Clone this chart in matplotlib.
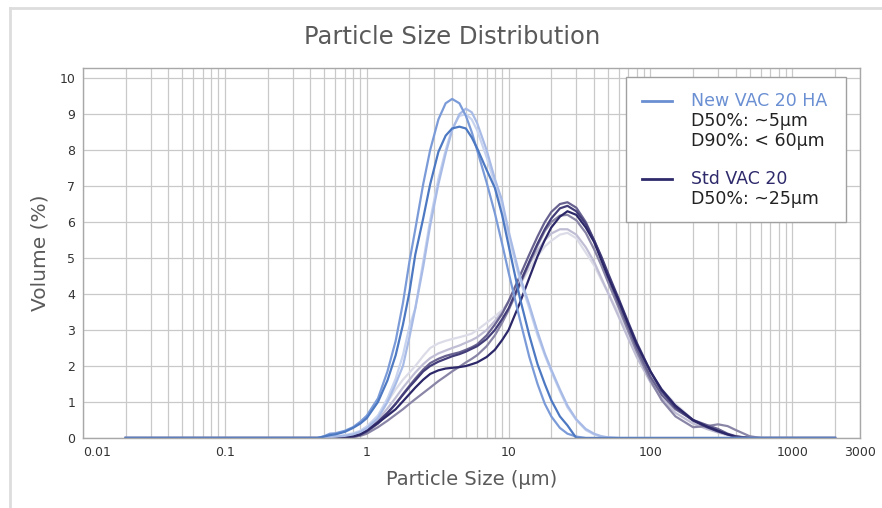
import matplotlib
matplotlib.use('Agg')
import matplotlib.pyplot as plt
from matplotlib.lines import Line2D
from matplotlib.patches import Rectangle
from matplotlib.ticker import FixedLocator, FixedFormatter, LogLocator, NullFormatter

plt.rcParams['font.family'] = ['DejaVu Sans']

# particle size grid (µm)
sizes = [0.02, 0.45, 0.5, 0.55, 0.6, 0.7, 0.8, 0.9, 1.0, 1.2,
         1.4, 1.6, 1.8, 2.0, 2.2, 2.5, 2.8, 3.2, 3.6, 4.0,
         4.5, 5.0, 5.5, 6.0, 7.0, 8.0, 9.0, 10, 12, 14,
         16, 18, 20, 23, 26, 30, 35, 40, 45, 50,
         60, 70, 80, 100, 120, 150, 200, 250, 300, 350,
         400, 500, 600, 2000]

# New VAC 20 HA runs (volume %)
new1 = [0, 0, 0.05, 0.12, 0.13, 0.2, 0.3, 0.45, 0.62, 1.1,
        1.85, 2.7, 3.75, 4.9, 5.8, 7.05, 8.0, 8.85, 9.3, 9.42,
        9.3, 8.95, 8.5, 8.0, 7.1, 6.25, 5.4, 4.6, 3.3, 2.25,
        1.5, 0.95, 0.6, 0.28, 0.12, 0.04, 0, 0, 0, 0,
        0, 0, 0, 0, 0, 0, 0, 0, 0, 0,
        0, 0, 0, 0]
new2 = [0, 0, 0.04, 0.08, 0.1, 0.17, 0.28, 0.4, 0.55, 1.0,
        1.6, 2.3, 3.15, 4.05, 5.1, 6.1, 7.05, 7.95, 8.4, 8.6,
        8.65, 8.6, 8.35, 8.05, 7.45, 6.95, 6.2, 5.35, 3.9, 2.85,
        2.05, 1.5, 1.05, 0.6, 0.35, 0, 0, 0, 0, 0,
        0, 0, 0, 0, 0, 0, 0, 0, 0, 0,
        0, 0, 0, 0]
new3 = [0, 0, 0.02, 0.03, 0.04, 0.06, 0.1, 0.17, 0.27, 0.55,
        1.0, 1.5, 2.0, 2.8, 3.6, 4.75, 5.9, 7.05, 7.9, 8.55,
        9.0, 9.15, 9.05, 8.75, 8.0, 7.2, 6.6, 5.75, 4.5, 3.7,
        2.95, 2.35, 1.9, 1.35, 0.9, 0.52, 0.25, 0.12, 0.05, 0.02,
        0, 0, 0, 0, 0, 0, 0, 0, 0, 0,
        0, 0, 0, 0]
new4 = [0, 0, 0.02, 0.03, 0.05, 0.08, 0.13, 0.2, 0.32, 0.62,
        1.1, 1.65, 2.3, 3.1, 3.6, 4.9, 6.05, 7.2, 8.0, 8.6,
        8.95, 9.0, 8.85, 8.55, 7.8, 7.05, 6.4, 5.6, 4.4, 3.6,
        2.85, 2.3, 1.85, 1.3, 0.85, 0.5, 0.22, 0.1, 0.04, 0.01,
        0, 0, 0, 0, 0, 0, 0, 0, 0, 0,
        0, 0, 0, 0]

# Std VAC 20 runs (volume %)
std1 = [0, 0, 0, 0, 0, 0.02, 0.05, 0.1, 0.2, 0.42,
        0.62, 0.8, 1.02, 1.22, 1.4, 1.62, 1.78, 1.88, 1.93, 1.95,
        1.97, 2.0, 2.05, 2.1, 2.25, 2.45, 2.72, 3.0, 3.75, 4.45,
        5.05, 5.5, 5.85, 6.15, 6.3, 6.2, 5.85, 5.45, 4.95, 4.5,
        3.8, 3.15, 2.6, 1.85, 1.35, 0.9, 0.5, 0.32, 0.2, 0.1,
        0.03, 0, 0, 0]
std2 = [0, 0, 0, 0, 0, 0.01, 0.04, 0.1, 0.2, 0.45,
        0.7, 0.95, 1.2, 1.42, 1.6, 1.85, 2.0, 2.12, 2.2, 2.27,
        2.33, 2.4, 2.48, 2.55, 2.75, 3.0, 3.3, 3.6, 4.3, 4.9,
        5.4, 5.8, 6.1, 6.38, 6.45, 6.3, 5.95, 5.5, 5.05, 4.6,
        3.85, 3.2, 2.65, 1.85, 1.3, 0.85, 0.48, 0.3, 0.18, 0.1,
        0.04, 0, 0, 0]
std3 = [0, 0, 0, 0, 0, 0, 0.03, 0.08, 0.17, 0.4,
        0.68, 0.95, 1.22, 1.45, 1.65, 1.9, 2.08, 2.2, 2.28, 2.33,
        2.38, 2.45, 2.52, 2.6, 2.85, 3.15, 3.45, 3.8, 4.5, 5.1,
        5.6, 6.0, 6.28, 6.5, 6.55, 6.4, 6.0, 5.5, 5.0, 4.5,
        3.7, 3.05, 2.5, 1.7, 1.2, 0.8, 0.5, 0.36, 0.25, 0.12,
        0.05, 0, 0, 0]
std4 = [0, 0, 0, 0, 0, 0, 0.02, 0.06, 0.12, 0.3,
        0.48, 0.65, 0.8, 0.95, 1.08, 1.25, 1.4, 1.58, 1.72, 1.85,
        1.98, 2.1, 2.2, 2.3, 2.55, 2.85, 3.2, 3.55, 4.25, 4.85,
        5.35, 5.75, 6.0, 6.18, 6.2, 6.05, 5.7, 5.25, 4.8, 4.35,
        3.6, 2.95, 2.4, 1.6, 1.05, 0.6, 0.3, 0.33, 0.38, 0.33,
        0.22, 0.05, 0, 0]
std5 = [0, 0, 0, 0, 0, 0.02, 0.06, 0.12, 0.22, 0.5,
        0.82, 1.12, 1.4, 1.62, 1.82, 2.05, 2.22, 2.35, 2.43, 2.5,
        2.57, 2.65, 2.72, 2.8, 3.0, 3.25, 3.5, 3.8, 4.35, 4.85,
        5.2, 5.5, 5.68, 5.8, 5.8, 5.65, 5.3, 4.9, 4.45, 4.05,
        3.35, 2.75, 2.25, 1.55, 1.1, 0.7, 0.4, 0.25, 0.15, 0.08,
        0.03, 0, 0, 0]
std6 = [0, 0, 0, 0, 0, 0.03, 0.08, 0.16, 0.28, 0.62,
        1.0, 1.35, 1.62, 1.82, 2.0, 2.28, 2.5, 2.63, 2.7, 2.75,
        2.8, 2.85, 2.9, 3.0, 3.2, 3.38, 3.55, 3.75, 4.25, 4.7,
        5.05, 5.32, 5.48, 5.65, 5.7, 5.55, 5.15, 4.8, 4.4, 4.05,
        3.45, 2.85, 2.4, 1.7, 1.35, 0.95, 0.5, 0.3, 0.18, 0.1,
        0.04, 0, 0, 0]

xtick_vals = [0.01, 0.1, 1, 10, 100, 1000, 3000]
xtick_labels = ['0.01', '0.1', '1', '10', '100', '1000', '3000']
ytick_vals = list(range(0, 11))

std_runs = [(std6, '#dcdce8'), (std5, '#c0bed5'), (std4, '#8985a6'),
            (std3, '#67628f'), (std2, '#433e79'), (std1, '#2b2768')]
new_runs = [(new4, '#c7d3ef'), (new3, '#a8bbe6'), (new1, '#7b9bd8'),
            (new2, '#4d78c2')]

fig = plt.figure(figsize=(8.82, 5.08), dpi=100)
ax = fig.add_axes([83/882, 1-438/508, (860-83)/882, (438-68)/508])

for vals, col in std_runs + new_runs:
    assert len(vals) == len(sizes)
    ax.plot(sizes, vals, color=col, lw=1.6, solid_joinstyle='round')

ax.set_xscale('log')
ax.set_xlim(0.01, 3000)
ax.set_ylim(0, 10.28)

ax.xaxis.set_major_locator(FixedLocator(xtick_vals))
ax.xaxis.set_major_formatter(FixedFormatter(xtick_labels))
ax.xaxis.set_minor_locator(LogLocator(base=10, subs=range(2, 10), numticks=20))
ax.xaxis.set_minor_formatter(NullFormatter())
ax.set_yticks(ytick_vals)

ax.grid(True, which='both', axis='x', color='#c9c9c9', lw=0.9)
ax.grid(True, which='major', axis='y', color='#c9c9c9', lw=0.9)
ax.set_axisbelow(True)
ax.tick_params(which='both', length=0, labelsize=9, colors='#333333')
ax.tick_params(axis='x', pad=6)
ax.tick_params(axis='y', pad=5.5)
for s in ax.spines.values():
    s.set_color('#a8a8a8')
    s.set_linewidth(1.0)

lbls = ax.get_xticklabels()
lbls[0].set_ha('left')

ax.set_xlabel('Particle Size (µm)', fontsize=14, color='#5a5a5a', labelpad=8)
ax.set_ylabel('Volume (%)', fontsize=14.5, color='#5a5a5a', labelpad=7)
fig.text(452/882, 1-37/508, 'Particle Size Distribution', fontsize=17.5,
         color='#5a5a5a', ha='center', va='center')

# legend box
fig.add_artist(Rectangle((626/882, 1-222/508), 220/882, 145/508,
                         transform=fig.transFigure, facecolor='white',
                         edgecolor='#a0a0a0', lw=1.0, zorder=5))
blue = '#6a8fd2'
navy = '#2e2a6b'
def fy(y):
    return 1 - y/508
fig.add_artist(Line2D([642/882, 672/882], [fy(101), fy(101)], color=blue, lw=2, zorder=6))
fig.add_artist(Line2D([642/882, 672/882], [fy(179), fy(179)], color=navy, lw=2, zorder=6))
fs = 12.5
fig.text(691/882, fy(101), 'New VAC 20 HA', color=blue, fontsize=fs, va='center', zorder=7)
fig.text(691/882, fy(121), 'D50%: ~5µm', color='#222222', fontsize=fs, va='center', zorder=7)
fig.text(691/882, fy(141), 'D90%: < 60µm', color='#222222', fontsize=fs, va='center', zorder=7)
fig.text(691/882, fy(179), 'Std VAC 20', color=navy, fontsize=fs, va='center', zorder=7)
fig.text(691/882, fy(199), 'D50%: ~25µm', color='#222222', fontsize=fs, va='center', zorder=7)

# outer frame lines of the card
fig.add_artist(Line2D([10/882, 10/882], [0, fy(8)], color='#dddddd', lw=2))
fig.add_artist(Line2D([10/882, 1], [fy(8), fy(8)], color='#dddddd', lw=2))

fig.savefig('out.png', dpi=100)
